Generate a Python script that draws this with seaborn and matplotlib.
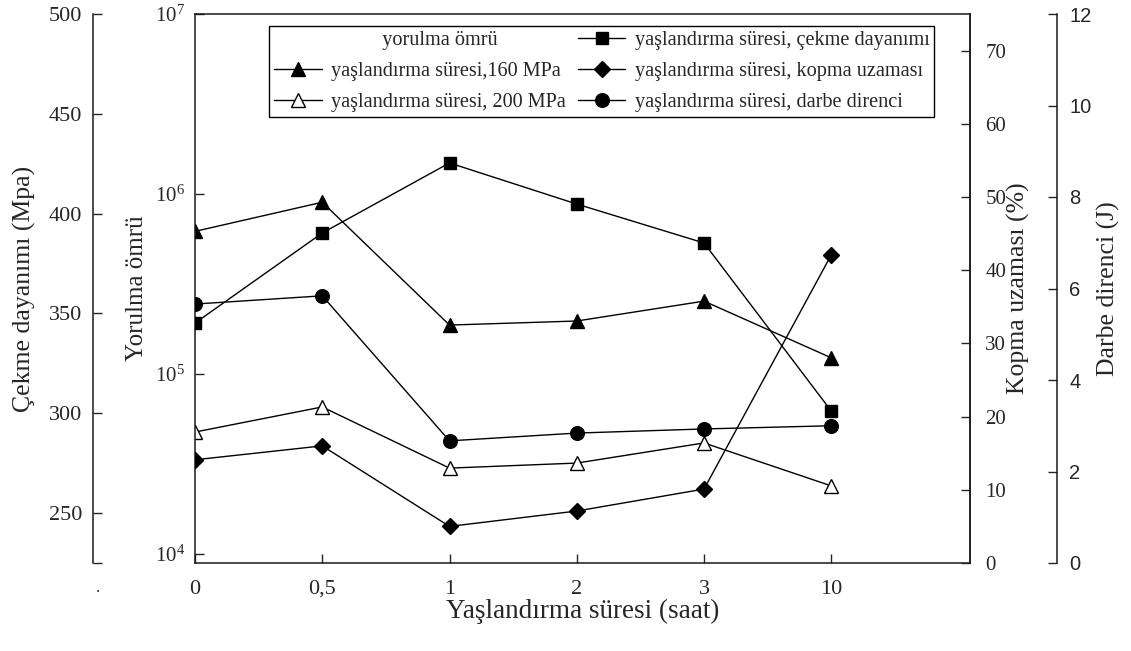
import numpy as np
import pandas as pd
import matplotlib
matplotlib.use("Agg")
import matplotlib.pyplot as plt
import seaborn as sns
from matplotlib.lines import Line2D
from matplotlib.ticker import FixedLocator, NullLocator

# ---------------- data ----------------
x_labels = ["0", "0,5", "1", "2", "3", "10"]
x_pos = [0, 1, 2, 3, 4, 5]
yorulma_160 = [6.2e5, 9.0e5, 1.87e5, 1.97e5, 2.54e5, 1.23e5]
yorulma_200 = [4.76e4, 6.56e4, 3.0e4, 3.2e4, 4.14e4, 2.39e4]
cekme = [345.2, 390.3, 425.4, 404.8, 385.3, 301.1]
kopma = [14.1, 16.0, 5.0, 7.1, 10.1, 42.1]
darbe = [5.66, 5.84, 2.67, 2.84, 2.93, 3.0]

lab_160 = "yaşlandırma süresi,160 MPa"
lab_200 = "yaşlandırma süresi, 200 MPa"
lab_cekme = "yaşlandırma süresi, çekme dayanımı"
lab_kopma = "yaşlandırma süresi, kopma uzaması"
lab_darbe = "yaşlandırma süresi, darbe direnci"
lab_header = "yorulma ömrü"

sns.set_theme(style="white")
plt.rcParams["font.family"] = ["Liberation Serif", "DejaVu Serif"]
plt.rcParams["mathtext.fontset"] = "stix"
plt.rcParams["axes.edgecolor"] = "#1a1a1a"

W, H = 1131, 651
fig = plt.figure(figsize=(W / 100, H / 100), dpi=100)
L, R, T, B = 195, 970, 14, 563
ax = fig.add_axes([L / W, 1 - B / H, (R - L) / W, (B - T) / H])

ax_c = ax.twinx()   # çekme (outer left)
ax_k = ax.twinx()   # kopma (right)
ax_d = ax.twinx()   # darbe (outer right)

SPW = 1.1
TS = 16


def draw(axis, vals, marker, ms, mfc="black"):
    df = pd.DataFrame({"x": x_pos, "y": vals})
    sns.lineplot(data=df, x="x", y="y", ax=axis, color="black", linewidth=1.0,
                 marker=marker, markersize=ms, markerfacecolor=mfc,
                 markeredgecolor="black", markeredgewidth=1.0, legend=False)
    return axis.lines[-1]


h160 = draw(ax, yorulma_160, "^", 10)
h200 = draw(ax, yorulma_200, "^", 10, mfc="white")
hc = draw(ax_c, cekme, "s", 9.2)
hk = draw(ax_k, kopma, "D", 7.8)
hd = draw(ax_d, darbe, "o", 9.8)

# main axis
ax.set_yscale("log")
ax.set_ylim(10 ** 3.95, 1e7)
ax.set_xlim(0, 6.09)
ax.set_xticks(x_pos)
ax.set_xticklabels(x_labels)
ax.yaxis.set_major_locator(FixedLocator([1e4, 1e5, 1e6, 1e7]))
ax.yaxis.set_minor_locator(NullLocator())
ax.tick_params(axis="x", direction="in", length=6.5, width=1, pad=12, labelsize=TS,
               bottom=True, top=False)
ax.tick_params(axis="y", direction="in", length=6.5, width=1, pad=7, labelsize=TS - 1,
               left=True, right=False)
for s in ax.spines.values():
    s.set_linewidth(SPW)
    s.set_color("#1a1a1a")
ax.set_xlabel("Yaşlandırma süresi (saat)", fontsize=19.5)
ax.xaxis.set_label_coords(0.5, -(599 - B) / (B - T), transform=ax.transAxes)
ax.set_ylabel("Yorulma ömrü", fontsize=18)
ax.yaxis.set_label_coords((148 - L) / (R - L), 0.5)

# çekme outer left
ax_c.set_ylim(225, 500)
for k in ["right", "top", "bottom"]:
    ax_c.spines[k].set_visible(False)
ax_c.spines["left"].set_visible(True)
ax_c.spines["left"].set_position(("axes", (93 - L) / (R - L)))
ax_c.spines["left"].set_linewidth(SPW)
ax_c.yaxis.set_ticks_position("left")
ax_c.yaxis.set_label_position("left")
ax_c.set_yticks([250, 300, 350, 400, 450, 500])
ax_c.set_yticks([225], minor=True)
ax_c.tick_params(axis="y", which="both", direction="in", length=6.5, width=1, pad=8, labelsize=TS)
ax_c.set_ylabel("Çekme dayanımı (Mpa)", fontsize=18.5)
ax_c.yaxis.set_label_coords((36 - L) / (R - L), 0.5)

# kopma right
ax_k.set_ylim(0, 75)
for k in ["left", "top", "bottom"]:
    ax_k.spines[k].set_visible(False)
ax_k.spines["right"].set_linewidth(SPW)
ax_k.set_yticks([0, 10, 20, 30, 40, 50, 60, 70])
ax_k.tick_params(axis="y", direction="in", length=6.5, width=1, pad=11, labelsize=TS - 1)
ax_k.set_ylabel("Kopma uzaması (%)", fontsize=18.5)
ax_k.yaxis.set_label_coords((1007 - L) / (R - L), 0.5)

# darbe outer right
ax_d.set_ylim(0, 12)
for k in ["left", "top", "bottom"]:
    ax_d.spines[k].set_visible(False)
ax_d.spines["right"].set_position(("axes", (1057 - L) / (R - L)))
ax_d.spines["right"].set_linewidth(SPW)
ax_d.set_yticks([0, 2, 4, 6, 8, 10, 12])
ax_d.tick_params(axis="y", direction="in", length=6.5, width=1, pad=9, labelsize=14.5)
for t in ax_d.get_yticklabels():
    t.set_fontfamily(["Liberation Sans", "DejaVu Sans"])
ax_d.set_ylabel("Darbe direnci (J)", fontsize=18.5)
ax_d.yaxis.set_label_coords((1097 - L) / (R - L), 0.5)

for a in (ax, ax_c, ax_k, ax_d):
    a.grid(False)

# legend
header = Line2D([], [], linestyle="none", marker=None)
handles = [header, h160, h200, hc, hk, hd]
labels = ["          " + lab_header, lab_160, lab_200, lab_cekme, lab_kopma, lab_darbe]
leg = fig.legend(handles, labels, ncol=2, loc="upper left",
                 bbox_to_anchor=(269 / W, 1 - 26 / H), bbox_transform=fig.transFigure,
                 fontsize=14.6, handlelength=2.35, handletextpad=0.45, columnspacing=0.6,
                 labelspacing=0.58, borderpad=0.25, borderaxespad=0,
                 frameon=True, fancybox=False, framealpha=1, edgecolor="black")
leg.get_frame().set_linewidth(1.0)

fig.text(98 / W, 1 - 588 / H, ".", fontsize=12, ha="center", va="center")

fig.savefig("out.png", dpi=100)
